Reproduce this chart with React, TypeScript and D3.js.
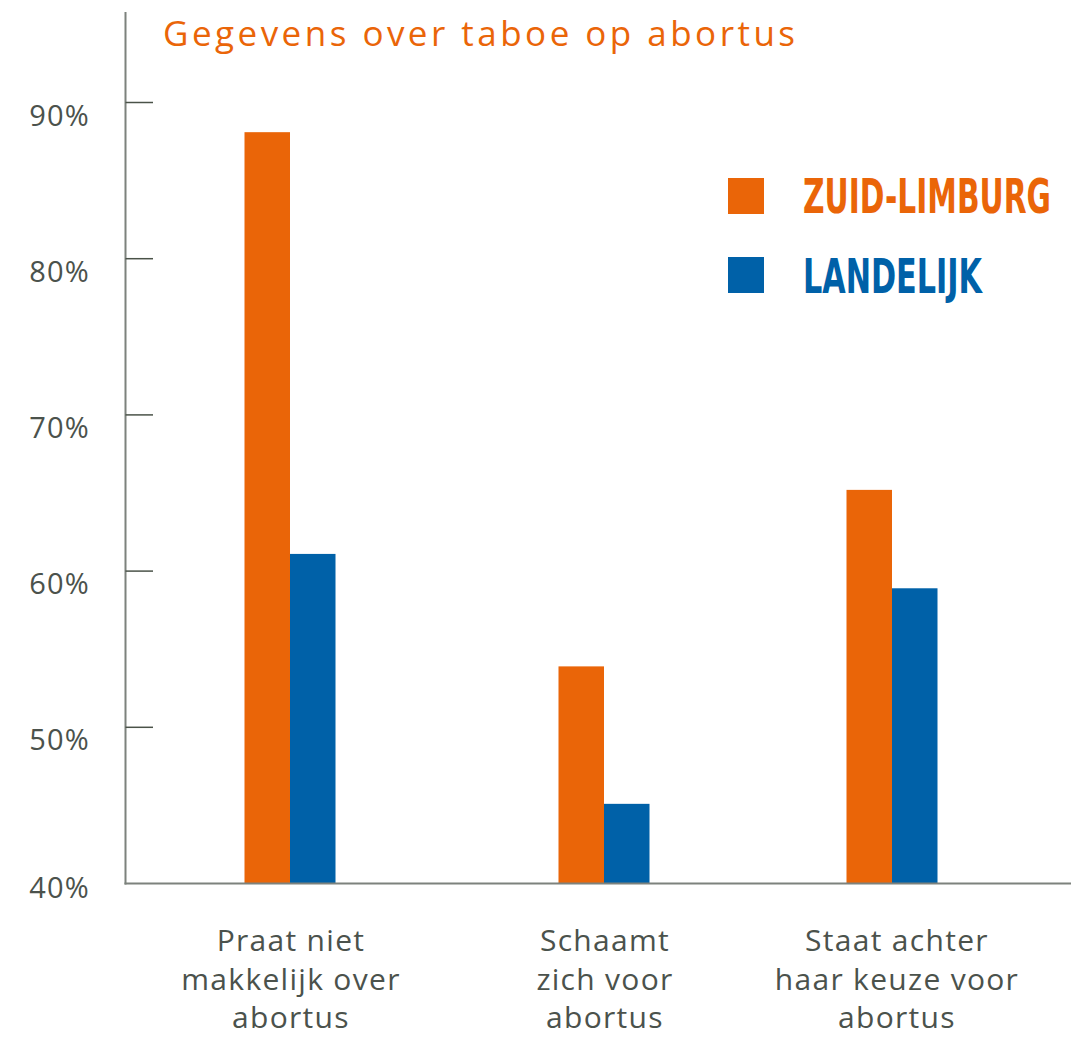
import React from "react";
import * as d3 from "d3";

const categories = [
  ["Praat niet", "makkelijk over", "abortus"],
  ["Schaamt", "zich voor", "abortus"],
  ["Staat achter", "haar keuze voor", "abortus"],
];
const seriesNames = ["ZUID-LIMBURG", "LANDELIJK"];
const zuidLimburg = [88.1, 53.9, 65.2];
const landelijk = [61.1, 45.1, 58.9];
const yTicks = [40, 50, 60, 70, 80, 90];
const title = "Gegevens over taboe op abortus";

const ORANGE = "#EA6508";
const BLUE = "#0061A8";
const AXIS = "#7d827d";
const TEXT = "#4b524c";
const FONT = "'Open Sans', Lato, sans-serif";

export default function App() {
  const W = 1071;
  const H = 1039;
  const axisX = 125.5;
  const baseY = 883.5;
  const y = d3.scaleLinear().domain([40, 90]).range([baseY, 102.5]);
  const x = d3
    .scaleOrdinal<number, number>()
    .domain([0, 1, 2])
    .range([290, 604, 892]);
  const sub = d3.scaleBand().domain(["a", "b"]).range([-45.5, 45.5]).padding(0);
  const series = [zuidLimburg, landelijk];
  const colors = [ORANGE, BLUE];
  const labelX = d3.scaleOrdinal<number, number>().domain([0, 1, 2]).range([291, 605, 897]);

  return (
    <svg
      width={W}
      height={H}
      style={{ position: "absolute", left: 0, top: 0, background: "#fff" }}
    >
      <text
        x={163}
        y={46}
        fill={ORANGE}
        fontFamily={FONT}
        fontWeight={400}
        fontSize={35}
        textLength={632}
        lengthAdjust="spacing"
      >
        {title}
      </text>

      {/* bars */}
      {series.map((vals, si) =>
        vals.map((v, ci) => (
          <rect
            key={`${si}-${ci}`}
            x={x(ci) + (sub(si === 0 ? "a" : "b") as number)}
            y={y(v)}
            width={sub.bandwidth()}
            height={baseY - y(v)}
            fill={colors[si]}
          />
        ))
      )}

      {/* axes */}
      <line x1={axisX} x2={axisX} y1={12} y2={baseY + 1} stroke={AXIS} strokeWidth={2} />
      <line x1={axisX - 1} x2={W} y1={baseY} y2={baseY} stroke={AXIS} strokeWidth={2} />
      {yTicks.map((t) => (
        <g key={t}>
          {t !== 40 && (
            <line x1={axisX} x2={153} y1={y(t)} y2={y(t)} stroke="#4a5248" strokeWidth={1.5} />
          )}
          <text
            x={90}
            y={Math.min(y(t) + 23, 898)}
            textAnchor="end"
            fill={TEXT}
            fontFamily={FONT}
            fontWeight={400}
            fontSize={29}
            letterSpacing={1.2}
          >
            {t}%
          </text>
        </g>
      ))}

      {/* category labels */}
      {categories.map((lines, ci) => (
        <text
          key={ci}
          textAnchor="middle"
          fill={TEXT}
          fontFamily={FONT}
          fontWeight={400}
          fontSize={30}
          letterSpacing={1.3}
        >
          {lines.map((l, li) => (
            <tspan key={li} x={labelX(ci)} y={951 + li * 38.5}>
              {l}
            </tspan>
          ))}
        </text>
      ))}

      {/* legend */}
      {seriesNames.map((name, i) => (
        <g key={name}>
          <rect x={728} y={178 + i * 79} width={36} height={36} fill={colors[i]} />
          <text
            transform={`translate(803, ${213 + i * 80}) scale(1, 1.45)`}
            fill={colors[i]}
            fontFamily="'DejaVu Sans Condensed', 'Liberation Sans Narrow', sans-serif"
            fontWeight="bold"
            fontSize={33}
            textLength={i === 0 ? 248 : 179}
            lengthAdjust="spacingAndGlyphs"
          >
            {name}
          </text>
        </g>
      ))}
    </svg>
  );
}
